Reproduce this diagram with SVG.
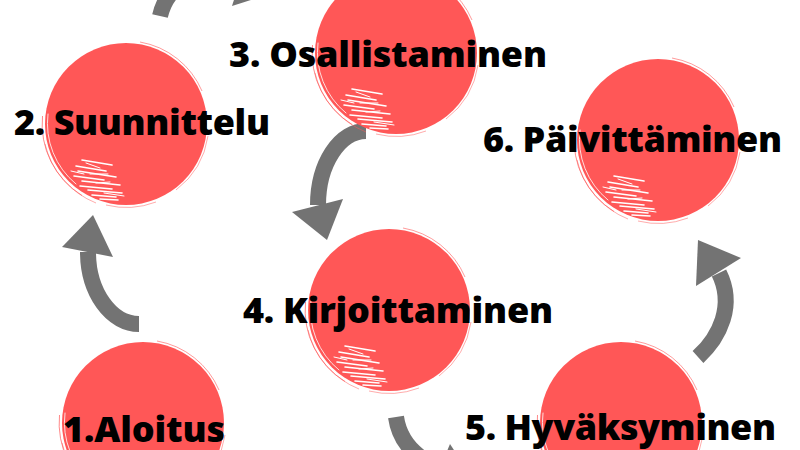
<svg xmlns="http://www.w3.org/2000/svg" xmlns:xlink="http://www.w3.org/1999/xlink" width="800" height="450" viewBox="0 0 800 450">
  <style>
    .lbl { font-family: "Open Sans", "Liberation Sans", sans-serif; font-weight: 800; font-size: 36px; fill: #000000; }
    .band { fill: none; stroke: #737373; stroke-width: 16; stroke-linecap: butt; }
    .head { fill: #737373; }
    .strand { fill: none; stroke: #FF5757; stroke-width: 1; }
    .streak { fill: none; stroke: #FFFFFF; stroke-linecap: round; }
  </style>
  <defs>
    <g id="blob">
      <circle r="81" fill="#FF5757"/>
      <path class="strand" d="M-83.5,-8 A84,84 0 0 0 -44,71.5" stroke-opacity="0.7"/>
      <path class="strand" d="M-81,20 A85,85 0 0 0 -30,79" stroke-opacity="0.5"/>
      <path class="strand" d="M14,-82 A83,83 0 0 1 76,-33" stroke-opacity="0.6"/>
      <path class="strand" d="M82,12 A83,83 0 0 1 50,66" stroke-opacity="0.5"/>
      <path class="strand" d="M-20,81 A84,84 0 0 0 30,78" stroke-opacity="0.5"/>
      <path class="streak" stroke-width="1" stroke-opacity="0.8" d="M-78,-10 A78,78 0 0 0 -50,60"/>
      <path class="streak" stroke-width="1.6" d="M-44,36 L-14,41 M-50,42 L-20,47 M-48,47 L-10,53 M-52,52 L-22,56 M-44,57 L-6,61 M-46,62 L-14,65 M-38,66 L-4,69 M-34,71 L-10,73 M-26,75 L-8,76"/>
      <path class="streak" stroke-width="1" d="M-40,39 L-26,44 M-36,50 L-18,50 M-30,59 L-16,58 M-22,69 L-2,72 M-55,47 L-42,50"/>
    </g>
  </defs>
  <rect width="800" height="450" fill="#FFFFFF"/>
  <g id="connectors">
    <g id="arrow-1-2">
      <path class="band" d="M139,324 A51,72 0 0 1 88,252"/>
      <polygon class="head" points="93,215 62,247 113,257"/>
    </g>
    <g id="arrow-2-3">
      <path class="band" d="M160,16 Q172,-34 240,-19"/>
      <polygon class="head" points="276,-8 232,6 248,-44"/>
    </g>
    <g id="arrow-3-4">
      <path class="band" d="M366,131 A48,74 0 0 0 318,205"/>
      <polygon class="head" points="327,240 292,212 343,199"/>
    </g>
    <g id="arrow-4-5">
      <path class="band" d="M396,417 Q401,452 440,468"/>
      <polygon class="head" points="475,482 430,492 450,444"/>
    </g>
    <g id="arrow-5-6">
      <path class="band" d="M698,357 C720,337 735,305 719,273"/>
      <polygon class="head" points="698,240 696,286 741,258"/>
    </g>
  </g>
  <g id="node1">
    <use xlink:href="#blob" href="#blob" transform="translate(143,423)"/>
    <text class="lbl" x="63" y="442" textLength="162" lengthAdjust="spacing">1.Aloitus</text>
  </g>
  <g id="node2">
    <use xlink:href="#blob" href="#blob" transform="translate(126,124)"/>
    <text class="lbl" x="14" y="135" textLength="256" lengthAdjust="spacing">2. Suunnittelu</text>
  </g>
  <g id="node3">
    <use xlink:href="#blob" href="#blob" transform="translate(396,53)"/>
    <text class="lbl" x="229" y="67" textLength="318" lengthAdjust="spacing">3. Osallistaminen</text>
  </g>
  <g id="node4">
    <use xlink:href="#blob" href="#blob" transform="translate(389,310)"/>
    <text class="lbl" x="243" y="323" textLength="310" lengthAdjust="spacing">4. Kirjoittaminen</text>
  </g>
  <g id="node5">
    <use xlink:href="#blob" href="#blob" transform="translate(621,423)"/>
    <text class="lbl" x="465" y="440" textLength="311" lengthAdjust="spacing">5. Hyväksyminen</text>
  </g>
  <g id="node6">
    <use xlink:href="#blob" href="#blob" transform="translate(658,140)"/>
    <text class="lbl" x="483" y="152" textLength="299" lengthAdjust="spacing">6. Päivittäminen</text>
  </g>
</svg>
